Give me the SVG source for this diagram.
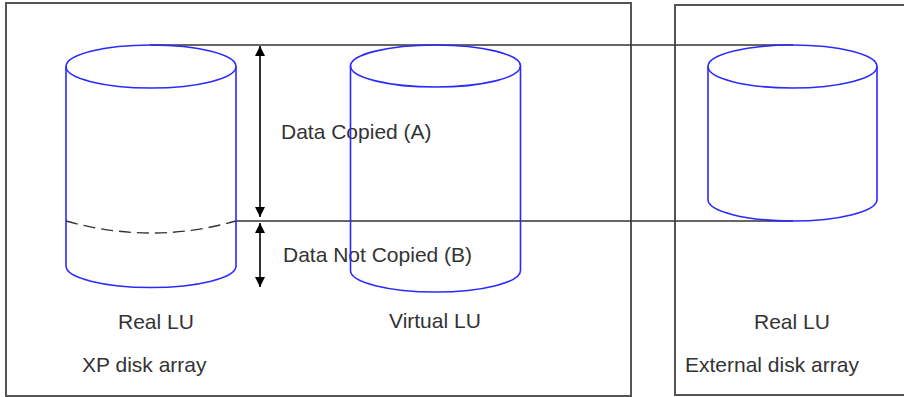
<svg xmlns="http://www.w3.org/2000/svg" width="904" height="397" viewBox="0 0 904 397">
<defs>
<style>
.box{fill:none;stroke:#555;stroke-width:2}
.ln{fill:none;stroke:#333;stroke-width:1.6}
.cyl{fill:none;stroke:#2a2aff;stroke-width:1.6}
.dash{fill:none;stroke:#333;stroke-width:1.4;stroke-dasharray:12,6}
.t{font-family:"Liberation Sans",Arial,sans-serif;font-size:21px;fill:#333}
</style>
<marker id="ah" viewBox="0 0 10 10" refX="10" refY="5" markerWidth="11" markerHeight="10" markerUnits="userSpaceOnUse" orient="auto-start-reverse">
<path d="M0,0 L10,5 L0,10 Z" fill="#000"/>
</marker>
</defs>
<g id="xp-array">
<rect class="box" x="6" y="3" width="625" height="393"/>
<text class="t" x="82" y="372">XP disk array</text>
</g>
<g id="external-array">
<rect class="box" x="675" y="5" width="240" height="390"/>
<text class="t" x="685" y="372">External disk array</text>
</g>
<g id="connectors">
<line class="ln" x1="150" y1="45" x2="793" y2="45"/>
<line class="ln" x1="236" y1="221" x2="793" y2="221"/>
<line x1="260" y1="46" x2="260" y2="217" stroke="#000" stroke-width="1.6" marker-start="url(#ah)" marker-end="url(#ah)"/>
<line x1="260" y1="223" x2="260" y2="287" stroke="#000" stroke-width="1.6" marker-start="url(#ah)" marker-end="url(#ah)"/>
</g>
<g id="labels">
<text class="t" x="281" y="139">Data Copied (A)</text>
<text class="t" x="283" y="262">Data Not Copied (B)</text>
</g>
<g id="real-lu">
<ellipse class="cyl" cx="151" cy="66.5" rx="85" ry="21.5"/>
<path class="cyl" d="M66,66.5 V266 A85,21.5 0 0 0 236,266 V66.5"/>
<path class="dash" d="M66,221 Q151,245 236,221"/>
<text class="t" x="118" y="329">Real LU</text>
</g>
<g id="virtual-lu">
<ellipse class="cyl" cx="435.5" cy="66" rx="85" ry="21"/>
<path class="cyl" d="M350.5,66 V270.5 A85,21.5 0 0 0 520.5,270.5 V66"/>
<text class="t" x="389" y="328">Virtual LU</text>
</g>
<g id="external-real-lu">
<ellipse class="cyl" cx="792.5" cy="66.5" rx="84.5" ry="21.5"/>
<path class="cyl" d="M708,66.5 V199.5 A84.5,21.5 0 0 0 877,199.5 V66.5"/>
<text class="t" x="754" y="329">Real LU</text>
</g>
</svg>
